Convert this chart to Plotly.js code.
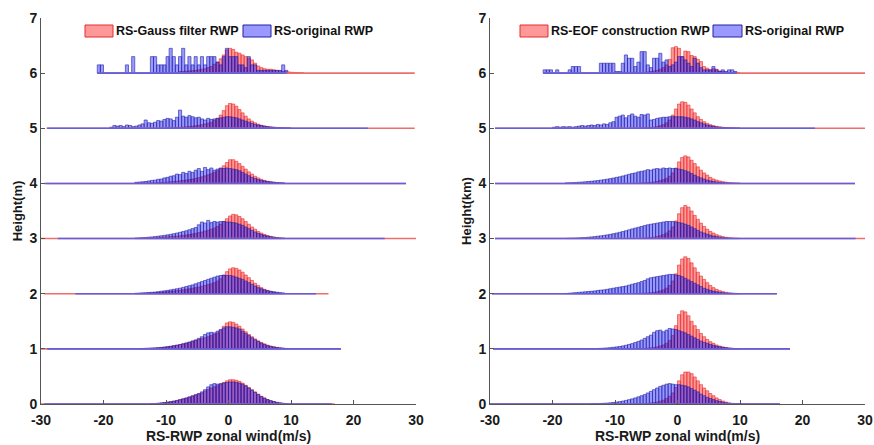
<!DOCTYPE html>
<html><head><meta charset="utf-8">
<script src="https://cdn.plot.ly/plotly-3.0.1.min.js"></script>
<style>html,body{margin:0;padding:0;background:#fff}#chart{width:874px;height:445px}</style>
</head><body><div id="chart"></div>
<script>
// ---------- DATA ----------
const binWidth = 0.5;
const rowLevels = [0, 1, 2, 3, 4, 5, 6];
const xTicks = [-30, -20, -10, 0, 10, 20, 30];
const yTicks = [0, 1, 2, 3, 4, 5, 6, 7];

// Left panel: RS-Gauss filter RWP (red) vs RS-original RWP (blue)
const gRedStart  = [-12.5, -14.5, -15, -15, -15, -10, -8];
const gBlueStart = [-12.5, -14.5, -15, -15, -15, -19, -21];
const gRed0 = [.005,.008,.012,.018,.025,.032,.04,.05,.06,.075,.09,.105,.12,.14,.16,.18,.2,.23,.26,.29,.31,.33,.36,.39,.42,.44,.44,.43,.41,.38,.34,.30,.26,.22,.18,.14,.11,.08,.06,.045,.03,.02,.012,.006];
const gBlue0 = [.006,.009,.013,.02,.027,.035,.043,.053,.065,.08,.095,.11,.13,.15,.17,.19,.22,.26,.31,.35,.37,.36,.37,.38,.39,.40,.40,.39,.38,.36,.33,.29,.25,.21,.17,.135,.105,.08,.06,.045,.03,.02,.012,.006];
const gRed1 = [.004,.006,.008,.01,.013,.016,.02,.025,.03,.037,.045,.055,.065,.075,.09,.105,.12,.14,.155,.17,.185,.2,.22,.24,.26,.29,.34,.41,.47,.49,.48,.45,.41,.36,.31,.26,.22,.18,.145,.115,.09,.068,.05,.037,.027,.019,.012,.007];
const gBlue1 = [.005,.007,.009,.011,.014,.017,.021,.026,.032,.039,.047,.057,.067,.078,.092,.107,.122,.142,.162,.19,.22,.26,.29,.30,.29,.32,.35,.38,.40,.40,.39,.38,.36,.32,.28,.24,.20,.165,.135,.105,.08,.06,.045,.035,.025,.018,.012,.007];
const gRed2 = [.003,.005,.007,.009,.012,.015,.018,.022,.026,.031,.036,.042,.048,.055,.062,.07,.08,.09,.1,.11,.12,.135,.15,.165,.18,.2,.23,.27,.33,.40,.45,.47,.46,.43,.39,.34,.29,.24,.19,.15,.11,.08,.06,.04,.028,.018,.011,.006];
const gBlue2 = [.008,.012,.015,.018,.022,.026,.03,.037,.045,.052,.06,.07,.08,.09,.1,.115,.13,.145,.16,.18,.2,.22,.24,.26,.28,.3,.32,.33,.34,.33,.33,.32,.3,.28,.26,.23,.2,.17,.14,.11,.09,.07,.055,.045,.035,.027,.02,.014];
const gRed3 = [.003,.004,.005,.007,.009,.011,.014,.017,.02,.024,.028,.033,.038,.044,.05,.057,.065,.074,.084,.095,.107,.12,.135,.15,.17,.19,.22,.26,.31,.36,.41,.44,.43,.40,.36,.31,.26,.21,.17,.13,.1,.075,.055,.04,.028,.019,.012,.007];
const gBlue3 = [.01,.013,.016,.02,.025,.03,.036,.043,.05,.058,.067,.077,.088,.1,.113,.127,.142,.16,.18,.2,.25,.3,.28,.33,.29,.31,.3,.31,.31,.3,.3,.29,.28,.26,.24,.21,.18,.15,.12,.095,.075,.058,.045,.034,.025,.018,.012,.008];
const gRed4 = [.003,.004,.005,.006,.008,.01,.012,.015,.018,.021,.025,.029,.034,.04,.046,.053,.061,.07,.08,.092,.105,.12,.137,.155,.175,.2,.23,.27,.32,.38,.43,.43,.40,.36,.31,.26,.21,.17,.13,.1,.075,.055,.04,.03,.022,.016,.011,.007];
const gBlue4 = [.02,.025,.03,.035,.045,.055,.06,.075,.08,.1,.11,.13,.14,.17,.16,.2,.18,.22,.2,.24,.27,.22,.29,.25,.28,.24,.26,.28,.27,.28,.27,.26,.25,.23,.2,.17,.14,.11,.09,.07,.055,.045,.035,.028,.022,.017,.013,.01];
const gRed5 = [.005,.007,.01,.013,.016,.02,.025,.03,.037,.045,.055,.065,.078,.093,.11,.14,.18,.24,.32,.41,.45,.44,.40,.34,.28,.22,.17,.13,.1,.075,.055,.04,.03,.022,.016,.012,.009,.006,.004,.003];
const gBlue5 = [.02,.05,.04,.05,.03,.06,.05,.03,.04,.06,.08,.15,.1,.09,.11,.14,.13,.16,.18,.17,.14,.2,.33,.22,.2,.23,.21,.19,.2,.17,.15,.18,.16,.17,.18,.19,.2,.21,.21,.2,.19,.17,.15,.13,.11,.09,.07,.06,.05,.04,.03,.025,.02,.015,.012,.01,.008,.006];
const gRed6 = [.03,.03,.035,.04,.045,.05,.06,.07,.08,.1,.12,.16,.2,.26,.33,.42,.45,.43,.38,.36,.33,.3,.27,.24,.18,.13,.1,.08,.07,.07,.06,.05,.04,.03,.025,.02,.015,.012,.01,.008];
const gBlue6 = [.15,.15,0,0,0,0,0,0,0,.15,0,.3,0,0,0,0,0,.3,.3,.15,.15,.15,.3,.45,.3,.15,.3,.45,.15,.3,.15,.3,.15,.3,.15,.3,.3,.3,.2,.15,.3,.45,.3,.3,.3,.15,.15,.1,.3,.15,.15,.05,.05,.05,.05,.05,.05,.05,.05,.15,.05];

// Right panel: RS-EOF construction RWP (red) vs RS-original RWP (blue)
const eRedStart  = [-6, -6, -6, -6, -6, -6, -10];
const eBlueStart = [-14, -14, -18, -18, -18, -20, -21.5];
const eRed0 = [.005,.008,.012,.018,.025,.035,.05,.07,.1,.14,.2,.3,.42,.53,.58,.58,.55,.49,.42,.35,.29,.24,.19,.15,.11,.08,.055,.035,.02,.012,.007,.004];
const eBlue0 = [.003,.005,.007,.01,.013,.017,.022,.028,.035,.043,.053,.065,.078,.093,.11,.13,.15,.17,.2,.23,.26,.29,.32,.34,.36,.37,.36,.35,.35,.34,.33,.31,.28,.25,.22,.18,.15,.12,.1,.08,.06,.045,.032,.022,.014,.009,.005,.003];
const eRed1 = [.005,.008,.012,.018,.025,.035,.05,.07,.1,.15,.24,.42,.62,.69,.67,.6,.5,.42,.35,.28,.22,.17,.13,.1,.07,.05,.035,.024,.016,.01,.006,.003];
const eBlue1 = [.003,.005,.007,.01,.013,.017,.022,.028,.035,.043,.053,.065,.08,.095,.115,.135,.16,.19,.22,.25,.3,.33,.34,.31,.34,.37,.36,.35,.33,.31,.29,.26,.23,.2,.17,.14,.12,.1,.08,.065,.05,.038,.028,.02,.014,.009,.005,.003];
const eRed2 = [.006,.009,.013,.018,.025,.035,.05,.07,.1,.15,.23,.36,.52,.63,.67,.64,.56,.47,.39,.32,.26,.2,.15,.11,.08,.055,.038,.026,.017,.011,.007,.004];
const eBlue2 = [.005,.01,.015,.02,.025,.03,.035,.04,.045,.05,.06,.065,.07,.08,.09,.1,.11,.12,.13,.14,.155,.17,.185,.2,.22,.24,.27,.29,.3,.31,.32,.33,.34,.35,.35,.34,.33,.31,.28,.25,.22,.19,.16,.13,.1,.08,.06,.045,.035,.025,.018,.013,.009,.006,.004,.002];
const eRed3 = [.006,.009,.013,.018,.025,.035,.05,.07,.1,.14,.21,.32,.45,.56,.6,.57,.5,.42,.35,.28,.22,.17,.13,.1,.07,.05,.035,.024,.016,.01,.006,.004];
const eBlue3 = [.004,.006,.008,.01,.013,.016,.02,.025,.03,.036,.043,.05,.058,.067,.077,.088,.1,.113,.127,.142,.158,.175,.19,.205,.22,.235,.25,.26,.27,.28,.29,.3,.31,.31,.31,.3,.29,.28,.26,.24,.21,.18,.15,.12,.1,.08,.06,.045,.034,.025,.018,.013,.009,.006,.004,.002];
const eRed4 = [.008,.011,.015,.02,.027,.036,.05,.068,.09,.13,.19,.28,.39,.47,.5,.48,.42,.36,.3,.24,.19,.15,.11,.08,.06,.045,.032,.023,.016,.011,.007,.004];
const eBlue4 = [.01,.012,.015,.018,.022,.026,.03,.035,.04,.046,.052,.06,.068,.077,.087,.098,.11,.12,.135,.15,.165,.18,.19,.21,.22,.23,.25,.24,.26,.27,.26,.28,.27,.28,.27,.27,.26,.25,.23,.21,.18,.15,.12,.1,.08,.06,.045,.034,.025,.018,.013,.009,.006,.004,.003,.002];
const eRed5 = [.005,.007,.01,.014,.02,.03,.045,.065,.1,.15,.24,.35,.44,.48,.47,.42,.35,.28,.21,.16,.12,.09,.065,.048,.035,.025,.018,.013,.009,.006,.004,.003];
const eBlue5 = [.02,.03,.02,.03,.025,.03,.02,.03,.04,.05,.04,.05,.06,.05,.07,.06,.08,.07,.1,.12,.2,.22,.24,.19,.23,.26,.22,.2,.25,.24,.26,.15,.16,.18,.19,.2,.2,.21,.21,.21,.21,.21,.2,.19,.17,.15,.12,.1,.08,.06,.045,.035,.025,.02,.015,.012,.009,.007,.005,.004];
const eRed6 = [.01,.01,.015,.01,.015,.01,.015,.01,.01,.015,.02,.03,.04,.05,.07,.1,.15,.25,.46,.48,.45,.3,.4,.39,.32,.3,.25,.21,.12,.09,.06,.08,.07,.04,.03,.02,.015,.012,.01,.008];
const eBlue6 = [.06,.06,.06,0,.06,0,0,0,.06,.12,.12,.12,0,0,0,0,0,0,.18,.18,.18,.18,.18,.03,.03,.18,.33,.27,.27,.12,.2,.39,.39,.15,.1,.27,.27,.36,.2,.24,.12,.15,.2,.3,.3,.24,.18,.12,.27,.18,.1,.06,.06,.06,.12,.06,.03,.06,.03,.06,.06,.03];

// Data ranges of each row (zero-count bins drawn as the base line)
const gRedMin  = [-30, -30, -29.5, -30, -29.2, -29.1, -21];
const gRedMax  = [17, 18, 16, 30, 28.4, 29.8, 29.8];
const gBlueMin = [-29.5, -29, -24.5, -27.3, -29.5, -29, -21];
const gBlueMax = [16.5, 18, 14, 25, 28.4, 22.3, 9.3];
const eRedMin  = [-30, -29.5, -29.7, -29.2, -29.2, -29.2, -21.2];
const eRedMax  = [16.4, 18, 15.9, 30, 28.4, 30, 30];
const eBlueMin = [-30, -29.5, -29.7, -29.2, -29.2, -29.2, -21.5];
const eBlueMax = [16.4, 18, 15.9, 28.5, 28.4, 22, 9.5];

const gReds  = [gRed0, gRed1, gRed2, gRed3, gRed4, gRed5, gRed6];
const gBlues = [gBlue0, gBlue1, gBlue2, gBlue3, gBlue4, gBlue5, gBlue6];
const eReds  = [eRed0, eRed1, eRed2, eRed3, eRed4, eRed5, eRed6];
const eBlues = [eBlue0, eBlue1, eBlue2, eBlue3, eBlue4, eBlue5, eBlue6];

// ---------- STYLE ----------
const RED_FILL = 'rgba(255,0,0,0.4)', RED_EDGE = 'rgb(228,45,45)', RED_BASE = 'rgb(238,110,110)';
const BLUE_FILL = 'rgba(0,0,255,0.4)', BLUE_EDGE = 'rgb(35,35,160)', BLUE_BASE = 'rgb(95,95,225)';
const SANS = "'Liberation Sans',Arial,sans-serif";

function centers(start, n) { return Array.from({length: n}, (_, i) => start + binWidth * (i + 0.5)); }

const traces = [];
function addPanel(xa, ya, reds, blues, rS, bS, rMin, rMax, bMin, bMax) {
  rowLevels.forEach((lvl, r) => {
    traces.push({type: 'scatter', mode: 'lines', xaxis: xa, yaxis: ya, x: [rMin[r], rMax[r]], y: [lvl, lvl],
      line: {color: RED_BASE, width: 1.6}, hoverinfo: 'skip'});
    traces.push({type: 'scatter', mode: 'lines', xaxis: xa, yaxis: ya, x: [bMin[r], bMax[r]], y: [lvl, lvl],
      line: {color: BLUE_BASE, width: 1.6}, hoverinfo: 'skip'});
  });
  rowLevels.forEach((lvl, r) => {
    traces.push({type: 'bar', xaxis: xa, yaxis: ya, x: centers(rS[r], reds[r].length), y: reds[r], base: lvl,
      width: binWidth, marker: {color: RED_FILL, line: {color: RED_EDGE, width: 0.6}}});
    traces.push({type: 'bar', xaxis: xa, yaxis: ya, x: centers(bS[r], blues[r].length), y: blues[r], base: lvl,
      width: binWidth, marker: {color: BLUE_FILL, line: {color: BLUE_EDGE, width: 0.6}}});
  });
}
addPanel('x', 'y', gReds, gBlues, gRedStart, gBlueStart, gRedMin, gRedMax, gBlueMin, gBlueMax);
addPanel('x2', 'y2', eReds, eBlues, eRedStart, eBlueStart, eRedMin, eRedMax, eBlueMin, eBlueMax);

const W = 874, H = 445, ML = 41, MR = 9, MT = 18, MB = 41;
const PW = W - ML - MR;
const tickFont = {family: SANS, size: 14, color: '#1a1a1a', weight: 'bold'};
const titleFont = {family: SANS, size: 14, color: '#1a1a1a', weight: 'bold'};
function xAxis(domain, anchor) {
  return {domain: domain, anchor: anchor, range: [-30, 30], tickvals: xTicks, ticktext: xTicks.map(String),
    ticks: 'inside', ticklen: 4, tickcolor: '#555', showline: true, linecolor: '#555', linewidth: 1,
    showgrid: false, zeroline: false, tickfont: tickFont, ticklabelstandoff: 3, ticklabeloverflow: 'allow',
    automargin: false, fixedrange: true,
    title: {text: 'RS-RWP zonal wind(m/s)', font: titleFont, standoff: 0}};
}
function yAxis(anchor, title) {
  return {domain: [0, 1], anchor: anchor, range: [0, 7], tickvals: yTicks, ticktext: yTicks.map(String),
    ticks: 'inside', ticklen: 4, tickcolor: '#555', showline: true, linecolor: '#555', linewidth: 1,
    showgrid: false, zeroline: false, tickfont: {family: SANS, size: 14, color: '#1a1a1a', weight: 'bold'},
    automargin: false, fixedrange: true, title: {text: title, font: {family: SANS, size: 13, color: '#1a1a1a', weight: 'bold'}, standoff: 3}};
}
const px = x => (x - ML) / PW;     // paper x from pixel
const py = y => 1 - (y - MT) / (H - MT - MB);

const shapes = [], annotations = [];
function legendItem(x0, x1, fill, edge, label) {
  shapes.push({type: 'rect', xref: 'paper', yref: 'paper', x0: px(x0), x1: px(x1), y0: py(37), y1: py(25),
    fillcolor: fill, line: {color: edge, width: 1}});
  annotations.push({xref: 'paper', yref: 'paper', x: px(x1 + 1), y: py(31), xanchor: 'left', yanchor: 'middle',
    text: label, showarrow: false, font: {family: SANS, size: 12.5, color: '#111', weight: 'bold'}});
}
legendItem(85, 113, RED_FILL, RED_EDGE, 'RS-Gauss filter RWP');
legendItem(243, 271, BLUE_FILL, BLUE_EDGE, 'RS-original RWP');
legendItem(520, 548, RED_FILL, RED_EDGE, 'RS-EOF construction RWP');
legendItem(713, 742, BLUE_FILL, BLUE_EDGE, 'RS-original RWP');

const layout = {
  width: W, height: H, margin: {l: ML, r: MR, t: MT, b: MB}, paper_bgcolor: '#fff', plot_bgcolor: 'rgba(0,0,0,0)',
  barmode: 'overlay', bargap: 0, showlegend: false,
  xaxis: xAxis([0, (416 - ML) / PW], 'y'),
  yaxis: yAxis('x', 'Height(m)'),
  xaxis2: xAxis([(490 - ML) / PW, (865 - ML) / PW], 'y2'),
  yaxis2: yAxis('x2', 'Height(km)'),
  shapes: shapes, annotations: annotations
};
Plotly.newPlot('chart', traces, layout, {staticPlot: true, displayModeBar: false});
</script></body></html>
